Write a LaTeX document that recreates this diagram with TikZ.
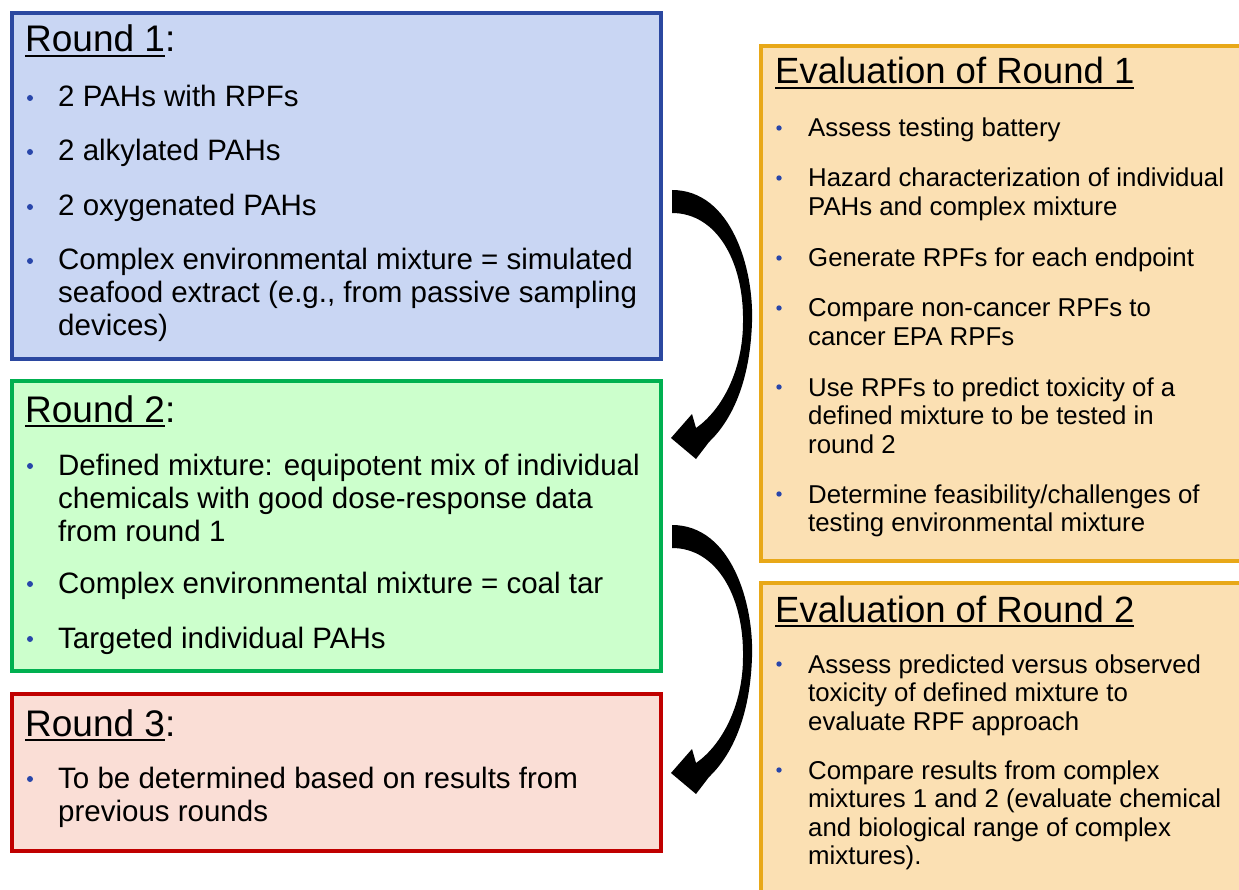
\documentclass[tikz,border=0pt]{standalone}
\usepackage{fontspec}
\setmainfont{Liberation Sans}
\definecolor{rAfill}{RGB}{201,214,243}
\definecolor{rAdraw}{RGB}{43,72,160}
\definecolor{rBfill}{RGB}{204,255,204}
\definecolor{rBdraw}{RGB}{0,176,80}
\definecolor{rCfill}{RGB}{250,222,214}
\definecolor{rCdraw}{RGB}{192,0,0}
\definecolor{evfill}{RGB}{251,224,179}
\definecolor{evdraw}{RGB}{232,168,24}
\definecolor{bulc}{RGB}{40,70,170}
\newcommand\ulin[1]{\setbox0\hbox{#1}\rlap{\rule[-5pt]{\wd0}{1.8pt}}\box0}
\newcommand\mlines[1]{\parbox[t]{600pt}{\raggedright #1}}
\begin{document}
\begin{tikzpicture}[x=1pt,y=-1pt,
  panel/.style={rectangle, inner sep=0pt, line width=4pt},
  evpanel/.style={rectangle, inner sep=0pt, line width=3.4pt, draw=evdraw, fill=evfill},
  ttl/.style={anchor=base west, inner sep=0pt, font=\fontsize{37}{44}\selectfont},
  etl/.style={anchor=base west, inner sep=0pt, font=\fontsize{36.5}{42}\selectfont},
  lb/.style={anchor=base west, inner sep=0pt, font=\fontsize{29.5}{33}\selectfont},
  rb/.style={anchor=base west, inner sep=0pt, font=\fontsize{25.8}{28.5}\selectfont},
  bul/.style={fill=bulc},
  curvearrow/.pic={
    \fill[black] (0,0) .. controls (60,0) and (82,80) .. (80,132)
      .. controls (78,195) and (58,232) .. (37,252)
      -- (24,269) -- (-1,248) -- (20,224) -- (24,238)
      .. controls (50,220) and (71,180) .. (71,132)
      .. controls (72,72) and (45,23) .. (0,23) -- cycle;
  }]
\useasboundingbox (0,0) rectangle (1239,890);
\clip (0,0) rectangle (1239,890);
\fill[white] (0,0) rectangle (1239,890);

% panels
\node[panel, draw=rAdraw, fill=rAfill, minimum width=649pt, minimum height=346pt] (r1) at (336.5,186) {};
\node[panel, draw=rBdraw, fill=rBfill, minimum width=649pt, minimum height=290pt] (r2) at (336.5,526) {};
\node[panel, draw=rCdraw, fill=rCfill, minimum width=649pt, minimum height=157pt] (r3) at (336.5,772.5) {};
\node[evpanel, minimum width=491pt, minimum height=515pt] (e1) at (1006.5,303.5) {};
\node[evpanel, minimum width=491pt, minimum height=322pt] (e2) at (1006.5,744) {};

% Round 1
\node[ttl] (r1t) at (25,52) {\ulin{Round 1}:};
\node[lb] (r1a) at (58,107) {2 PAHs with RPFs};
\node[lb] (r1b) at (58,161) {2 alkylated PAHs};
\node[lb] (r1c) at (58,216) {2 oxygenated PAHs};
\node[lb] (r1d) at (58,270) {\mlines{Complex environmental mixture = simulated\\seafood extract (e.g., from passive sampling\\devices)}};

% Round 2
\node[ttl] (r2t) at (25,422) {\ulin{Round 2}:};
\node[lb] (r2a) at (58,475) {\mlines{Defined mixture: equipotent mix of individual\\chemicals with good dose-response data\\from round 1}};
\node[lb] (r2b) at (58,593) {Complex environmental mixture = coal tar};
\node[lb] (r2c) at (58,648) {Targeted individual PAHs};

% Round 3
\node[ttl] (r3t) at (25,736) {\ulin{Round 3}:};
\node[lb] (r3a) at (58,788) {\mlines{To be determined based on results from\\previous rounds}};

% Evaluation 1
\node[etl] (e1t) at (775,84) {\ulin{Evaluation of Round 1}};
\node[rb] (e1a) at (808,137) {Assess testing battery};
\node[rb] (e1b) at (808,187) {\mlines{Hazard characterization of individual\\PAHs and complex mixture}};
\node[rb] (e1c) at (808,267) {Generate RPFs for each endpoint};
\node[rb] (e1d) at (808,317) {\mlines{Compare non-cancer RPFs to\\cancer EPA RPFs}};
\node[rb] (e1e) at (808,396) {\mlines{Use RPFs to predict toxicity of a\\defined mixture to be tested in\\round 2}};
\node[rb] (e1f) at (808,503) {\mlines{Determine feasibility/challenges of\\testing environmental mixture}};

% Evaluation 2
\node[etl] (e2t) at (775,622) {\ulin{Evaluation of Round 2}};
\node[rb] (e2a) at (808,673) {\mlines{Assess predicted versus observed\\toxicity of defined mixture to\\evaluate RPF approach}};
\node[rb] (e2b) at (808,779) {\mlines{Compare results from complex\\mixtures 1 and 2 (evaluate chemical\\and biological range of complex\\mixtures).}};

% bullets
\foreach \n in {r1a,r1b,r1c,r1d,r2a,r2b,r2c,r3a}
  \fill[bul] ([xshift=-28pt,yshift=9pt]\n.base west) circle (3pt);
\foreach \n in {e1a,e1b,e1c,e1d,e1e,e1f,e2a,e2b}
  \fill[bul] ([xshift=-29pt,yshift=9pt]\n.base west) circle (2.7pt);

% curved arrows
\pic at ([xshift=9pt]r1.east |- 0,190) {curvearrow};
\pic at ([xshift=9pt]r2.east |- 0,525) {curvearrow};
\end{tikzpicture}
\end{document}
